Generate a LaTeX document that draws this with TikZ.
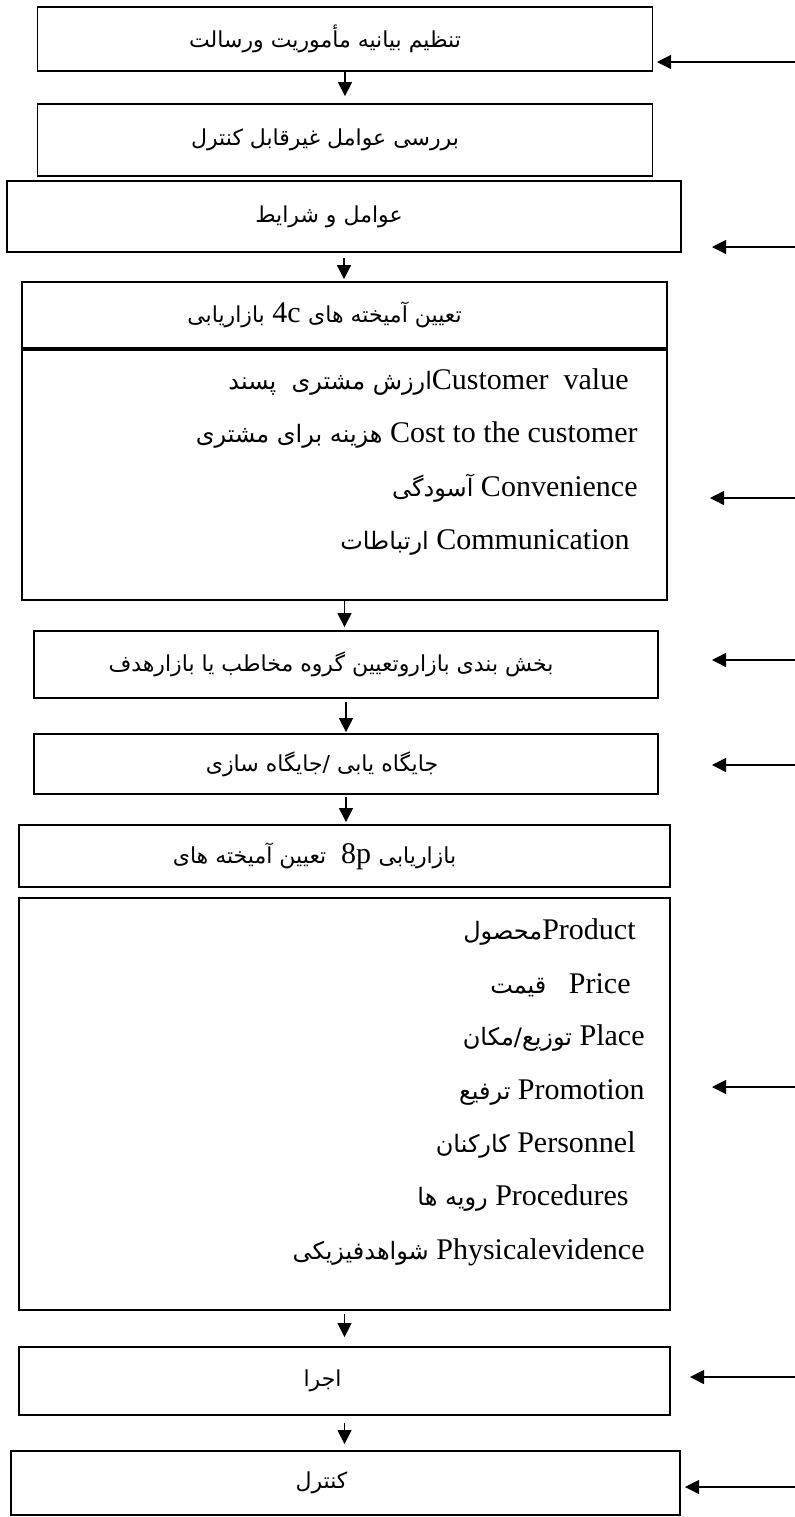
\documentclass[tikz,border=0pt]{standalone}
\usepackage{fontspec}
\setmainfont{Liberation Serif}
\newfontfamily\fafont[Script=Arabic]{DejaVu Sans}
\TeXXeTstate=1
\usetikzlibrary{arrows.meta,positioning}
\newcommand{\fatext}[2][11]{{\fafont\fontsize{#1}{13}\selectfont\beginR #2\endR}}
\newcommand{\steptext}[2][20pt]{#2\hspace{#1}\null}

\begin{document}
\begin{tikzpicture}[x=0.5pt,y=-0.5pt,
	font=\fontsize{15}{18}\selectfont,
	box/.style={rectangle, draw, line width=0.9pt, inner sep=0pt},
	item/.style={inner sep=0pt, anchor=east},
	flow/.style={-{Triangle[length=7pt,width=7pt]}, line width=0.6pt},
	feed/.style={-{Triangle[length=7pt,width=7pt]}, line width=0.6pt}]
		\useasboundingbox (0,0) rectangle (795,1517);
		% steps
		\node (b1) at (345,39) [box, minimum width=307.5pt, minimum height=32pt] {\steptext{\fatext{تنظیم بیانیه مأموریت ورسالت}}};
		\node (b2) at (345,140) [box, minimum width=307.5pt, minimum height=36pt] {\steptext{\fatext{بررسی عوامل غیرقابل کنترل}}};
		\node (b3) at (344,216.5) [box, minimum width=337pt, minimum height=35.5pt] {\steptext[15pt]{\fatext{عوامل و شرایط}}};
		\node (b4) at (344.5,315) [box, minimum width=322.5pt, minimum height=33pt] {\steptext{\fatext{بازاریابی}\ 4c\ \fatext{تعیین آمیخته های}}};
		\node (b4body) [below=0pt of b4, box, minimum width=322.5pt, minimum height=125pt] {};
		\node (c1) at (629,382) [item] {\fatext[12]{ارزش مشتری\ \ پسند}Customer\ \ value};
		\node (c2) at (638,435) [item] {\fatext[12]{هزینه برای مشتری} Cost to the customer};
		\node (c3) at (638,488) [item] {\fatext[12]{آسودگی} Convenience};
		\node (c4) at (630,542) [item] {\fatext[12]{ارتباطات} Communication};
		\node (b5) at (346,664.5) [box, minimum width=312pt, minimum height=33.5pt] {\steptext[15pt]{\fatext{بخش بندی بازاروتعیین گروه مخاطب یا بازارهدف}}};
		\node (b6) at (346,764) [box, minimum width=312pt, minimum height=30pt] {\steptext[24pt]{\fatext{جایگاه یابی /جایگاه سازی}}};
		\node (b7) at (344.5,856) [box, minimum width=325.5pt, minimum height=31pt] {\steptext[30pt]{\fatext{تعیین آمیخته های}\ \ 8p\ \fatext{بازاریابی}}};
		\node (b8) at (344.5,1104) [box, minimum width=325.5pt, minimum height=206pt] {};
		\node (p1) at (636,932) [item] {\fatext[12]{محصول}Product};
		\node (p2) at (631,985) [item] {\fatext[12]{قیمت}\ \ \ Price};
		\node (p3) at (645,1038) [item] {\fatext[12]{توزیع/مکان} Place};
		\node (p4) at (645,1092) [item] {\fatext[12]{ترفیع} Promotion};
		\node (p5) at (636,1145) [item] {\fatext[12]{کارکنان} Personnel};
		\node (p6) at (629,1198) [item] {\fatext[12]{رویه ها} Procedures};
		\node (p7) at (645,1252) [item] {\fatext[12]{شواهدفیزیکی} Physicalevidence};
		\node (b9) at (344.5,1381) [box, minimum width=325.5pt, minimum height=34pt] {\steptext[22pt]{\fatext{اجرا}}};
		\node (b10) at (345.5,1483) [box, minimum width=334.5pt, minimum height=32pt] {\steptext[24pt]{\fatext{کنترل}}};
		% flow downwards
		\draw [flow, shorten >=3.5pt] (b1.south) -- (b1.south|-b2.north);
		\draw [flow, shorten <=2.5pt, shorten >=1pt] (b3.south) -- (b3.south|-b4.north);
		\draw [flow, shorten >=1.5pt] (b4body.south) -- (b4body.south|-b5.north);
		\draw [flow, shorten <=1.5pt, shorten >=0.5pt] (b5.south) -- (b5.south|-b6.north);
		\draw [flow, shorten <=1pt, shorten >=1pt] (b6.south) -- (b6.south|-b7.north);
		\draw [flow, shorten <=1.5pt, shorten >=4.5pt] (b8.south) -- (b8.south|-b9.north);
		\draw [flow, shorten <=3.5pt, shorten >=3pt] (b9.south) -- (b9.south|-b10.north);
		% inputs from the right
		\coordinate (in1) at (795,62);   \coordinate (out1) at (657,62);
		\coordinate (in3) at (795,247);  \coordinate (out3) at (712,247);
		\coordinate (in4) at (795,498);  \coordinate (out4) at (710,498);
		\coordinate (in5) at (795,660);  \coordinate (out5) at (712,660);
		\coordinate (in6) at (795,765);  \coordinate (out6) at (712,765);
		\coordinate (in8) at (795,1087); \coordinate (out8) at (712,1087);
		\coordinate (in9) at (795,1377); \coordinate (out9) at (690,1377);
		\coordinate (in10) at (795,1487); \coordinate (out10) at (685,1487);
		\draw [feed] (in1) -- (out1);
		\draw [feed] (in3) -- (out3);
		\draw [feed] (in4) -- (out4);
		\draw [feed] (in5) -- (out5);
		\draw [feed] (in6) -- (out6);
		\draw [feed] (in8) -- (out8);
		\draw [feed] (in9) -- (out9);
		\draw [feed] (in10) -- (out10);
	\end{tikzpicture}
\end{document}
